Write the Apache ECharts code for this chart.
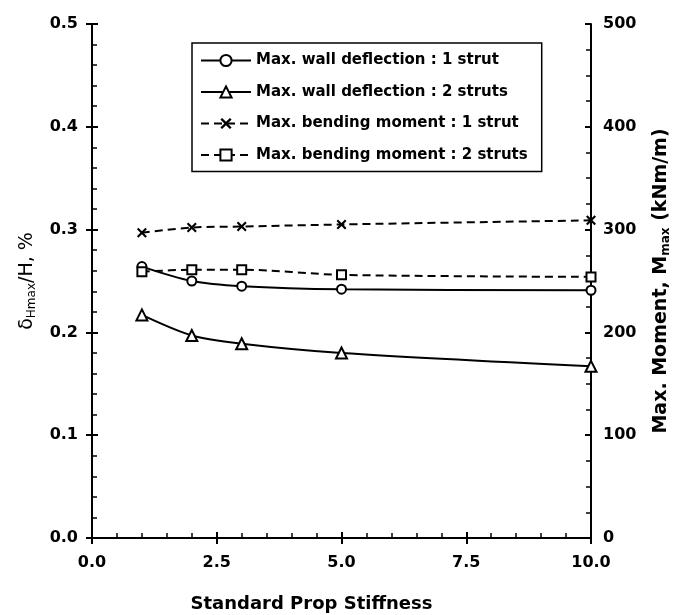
<!DOCTYPE html>
<html>
<head>
<meta charset="utf-8">
<script src="https://cdn.jsdelivr.net/npm/echarts@6/dist/echarts.min.js"></script>
<style>html,body{margin:0;padding:0;background:#fff;}#c{width:676px;height:615px;}</style>
</head>
<body>
<div id="c"></div>
<script>
const stiffness = [1, 2, 3, 5, 10];
const deflection1Strut = [0.264, 0.250, 0.245, 0.242, 0.241];
const deflection2Struts = [0.217, 0.197, 0.189, 0.180, 0.167];
const moment1Strut = [297, 302, 303, 305, 309];
const moment2Struts = [259, 261, 261, 256, 254];
const seriesNames = [
  'Max. wall deflection : 1 strut',
  'Max. wall deflection : 2 struts',
  'Max. bending moment : 1 strut',
  'Max. bending moment : 2 struts'
];

const FONT = 'DejaVu Sans';
const crossPath = 'path://M0,1.5L1.5,0L5,3.5L8.5,0L10,1.5L6.5,5L10,8.5L8.5,10L5,6.5L1.5,10L0,8.5L3.5,5Z';
const pairs = (ys) => stiffness.map((x, i) => [x, ys[i]]);

const chart = echarts.init(document.getElementById('c'));
const lbl = {color: '#000', fontFamily: FONT, fontWeight: 'bold', fontSize: 16};
const line = {show: true, lineStyle: {color: '#000', width: 2}};

chart.setOption({
  animation: false,
  backgroundColor: '#fff',
  grid: {left: 92, right: 85, top: 24, bottom: 77, containLabel: false, outerBoundsMode: 'none'},
  legend: {
    orient: 'vertical', left: 192, top: 43,
    padding: [10, 14, 9, 8],
    itemWidth: 50, itemHeight: 14, itemGap: 16.5,
    borderColor: '#000', borderWidth: 1.5,
    textStyle: {color: '#000', fontFamily: FONT, fontWeight: 'bold', fontSize: 15},
    data: seriesNames
  },
  xAxis: [{
    type: 'value', min: 0, max: 10, interval: 2.5,
    axisLine: line,
    axisTick: {show: true, inside: false, length: 6, lineStyle: {color: '#000', width: 2}},
    minorTick: {show: false},
    splitLine: {show: false},
    axisLabel: Object.assign({margin: 17, formatter: v => v.toFixed(1)}, lbl),
    name: 'Standard Prop Stiffness', nameLocation: 'middle', nameGap: 57,
    nameTextStyle: {color: '#000', fontFamily: FONT, fontWeight: 'bold', fontSize: 18, padding: [0, 60, 0, 0]}
  }, {
    type: 'value', min: 0, max: 10, interval: 2.5, position: 'bottom', offset: 0,
    axisLine: line,
    axisTick: {show: true, inside: true, length: 6, lineStyle: {color: '#000', width: 2}},
    minorTick: {show: true, splitNumber: 5, length: 5, lineStyle: {color: '#000', width: 1.5}},
    splitLine: {show: false}, axisLabel: {show: false}
  }, {
    type: 'value', min: 0, max: 10, position: 'top',
    axisLine: line, axisTick: {show: false}, axisLabel: {show: false}, splitLine: {show: false}
  }],
  yAxis: [{
    type: 'value', min: 0, max: 0.5, interval: 0.1, position: 'left',
    axisLine: line,
    axisTick: {show: true, inside: false, length: 6, lineStyle: {color: '#000', width: 2}},
    splitLine: {show: false},
    axisLabel: Object.assign({margin: 14, formatter: v => v.toFixed(1)}, lbl),
    name: '{a|δ}{s|Hmax}{a|/H, %}', nameLocation: 'middle', nameGap: 54, nameRotate: 90,
    nameTextStyle: {rich: {
      a: {color: '#000', fontFamily: FONT, fontSize: 19},
      s: {color: '#000', fontFamily: FONT, fontSize: 12, padding: [9, 0, 0, 0]}
    }}
  }, {
    type: 'value', min: 0, max: 0.5, interval: 0.1, position: 'left',
    axisLine: line,
    axisTick: {show: true, inside: true, length: 6, lineStyle: {color: '#000', width: 2}},
    minorTick: {show: true, splitNumber: 5, length: 5, lineStyle: {color: '#000', width: 1.5}},
    splitLine: {show: false}, axisLabel: {show: false}
  }, {
    type: 'value', min: 0, max: 500, interval: 100, position: 'right',
    axisLine: line,
    axisTick: {show: true, inside: false, length: 6, lineStyle: {color: '#000', width: 2}},
    splitLine: {show: false},
    axisLabel: Object.assign({margin: 12}, lbl),
    name: '{a|Max. Moment, M}{s|max}{a| (kNm/m)}', nameLocation: 'middle', nameGap: 60, nameRotate: 90,
    nameTextStyle: {rich: {
      a: {color: '#000', fontFamily: FONT, fontWeight: 'bold', fontSize: 19},
      s: {color: '#000', fontFamily: FONT, fontWeight: 'bold', fontSize: 12, padding: [9, 0, 0, 0]}
    }}
  }, {
    type: 'value', min: 0, max: 500, interval: 100, position: 'right',
    axisLine: line,
    axisTick: {show: true, inside: true, length: 6, lineStyle: {color: '#000', width: 2}},
    minorTick: {show: true, splitNumber: 4, length: 5, lineStyle: {color: '#000', width: 1.5}},
    splitLine: {show: false}, axisLabel: {show: false}
  }],
  series: [{
    name: seriesNames[0], type: 'line', xAxisIndex: 0, yAxisIndex: 0, smooth: 0.3,
    data: pairs(deflection1Strut), symbol: 'emptyCircle', symbolSize: 9,
    lineStyle: {color: '#000', width: 2}, itemStyle: {color: '#000', borderColor: '#000', borderWidth: 2}
  }, {
    name: seriesNames[1], type: 'line', xAxisIndex: 0, yAxisIndex: 0, smooth: 0.3,
    data: pairs(deflection2Struts), symbol: 'emptyTriangle', symbolSize: 11,
    lineStyle: {color: '#000', width: 2}, itemStyle: {color: '#000', borderColor: '#000', borderWidth: 1.5}
  }, {
    name: seriesNames[2], type: 'line', xAxisIndex: 0, yAxisIndex: 2, smooth: 0.3,
    data: pairs(moment1Strut), symbol: crossPath, symbolSize: 10,
    lineStyle: {color: '#000', width: 2, type: [8, 5]}, itemStyle: {color: '#000', borderColor: '#000', borderWidth: 0}
  }, {
    name: seriesNames[3], type: 'line', xAxisIndex: 0, yAxisIndex: 2, smooth: 0.3,
    data: pairs(moment2Struts), symbol: 'emptyRect', symbolSize: 9,
    lineStyle: {color: '#000', width: 2, type: [8, 5]}, itemStyle: {color: '#000', borderColor: '#000', borderWidth: 2}
  }]
});
</script>
</body>
</html>
